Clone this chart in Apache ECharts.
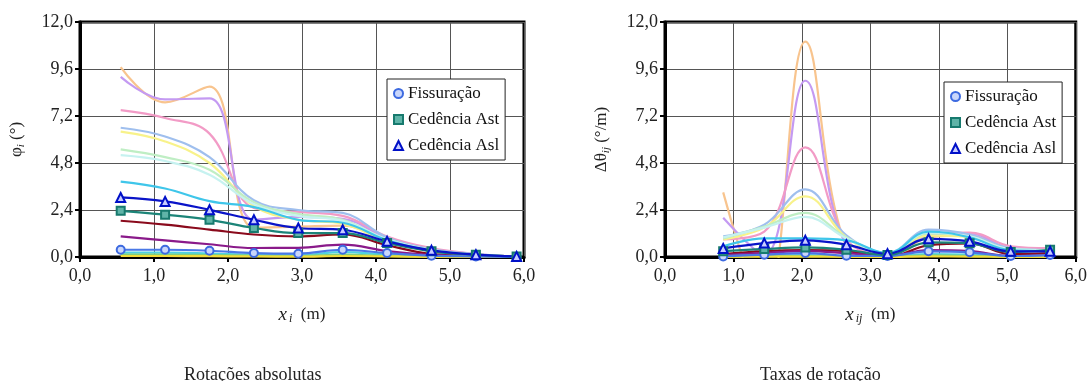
<!DOCTYPE html>
<html>
<head>
<meta charset="utf-8">
<script src="https://cdn.jsdelivr.net/npm/echarts@6/dist/echarts.min.js"></script>
<style>
  html, body { margin: 0; padding: 0; background: #fff; }
  #main { width: 1090px; height: 381px; }
</style>
</head>
<body>
<div id="main"></div>
<script>
// x positions (m)
const xAbs = [0.55, 1.15, 1.75, 2.35, 2.95, 3.55, 4.15, 4.75, 5.35, 5.9];
const xRate = [0.85, 1.45, 2.05, 2.65, 3.25, 3.85, 4.45, 5.05, 5.625];

// rotações absolutas (graus)
const absTan = [9.7, 7.9, 8.7, 1.5, 1.55, 1.6, 0.85, 0.3, 0.12, 0.02];
const absLavender = [9.2, 8.05, 8.1, 1.9, 2.05, 1.95, 0.95, 0.4, 0.15, 0.02];
const absPink = [7.5, 7.1, 6.3, 2.5, 2.3, 2.1, 1.05, 0.45, 0.15, 0.02];
const absLightBlue = [6.6, 6.15, 5.1, 2.9, 2.4, 2.25, 1.0, 0.4, 0.15, 0.02];
const absYellow = [6.4, 5.9, 4.8, 2.6, 1.9, 1.7, 0.8, 0.3, 0.12, 0.02];
const absLightGreen = [5.5, 5.1, 4.45, 2.8, 2.2, 1.9, 0.9, 0.35, 0.12, 0.02];
const absLightCyan = [5.2, 4.9, 4.2, 2.7, 2.1, 1.85, 0.9, 0.35, 0.12, 0.02];
const absCyan = [3.85, 3.5, 2.85, 2.55, 1.9, 1.75, 0.85, 0.3, 0.1, 0.02];
const absDarkRed = [1.85, 1.65, 1.4, 1.15, 1.05, 1.15, 0.6, 0.15, 0.05, 0.01];
const absPurple = [1.05, 0.85, 0.65, 0.46, 0.47, 0.63, 0.3, 0.1, 0.04, 0.01];
const absLowCyan = [0.22, 0.22, 0.18, 0.12, 0.1, 0.25, 0.12, 0.04, 0.02, 0];
const absLowGreen = [0.12, 0.12, 0.1, 0.07, 0.05, 0.12, 0.06, 0.02, 0.01, 0];
const absLowYellow = [0.05, 0.05, 0.04, 0.03, 0.02, 0.05, 0.03, 0.01, 0, 0];
const absFiss = [0.37, 0.37, 0.32, 0.2, 0.17, 0.37, 0.2, 0.07, 0.03, 0.0];
const absAst = [2.36, 2.16, 1.9, 1.48, 1.22, 1.22, 0.71, 0.29, 0.12, 0.02];
const absAsl = [3.04, 2.84, 2.41, 1.9, 1.48, 1.39, 0.8, 0.34, 0.12, 0.03];

// taxas de rotação (graus/m)
const rateTan = [3.3, -2.5, 11.0, 0.5, -0.2, 1.0, 1.1, 0.4, 0.35];
const rateLavender = [2.0, 0.1, 9.0, 0.6, 0.0, 1.1, 1.2, 0.45, 0.4];
const ratePink = [0.9, 1.3, 5.6, 0.9, 0.1, 1.2, 1.25, 0.55, 0.45];
const rateLightBlue = [1.05, 1.65, 3.45, 1.1, 0.2, 1.4, 1.15, 0.45, 0.35];
const rateYellow = [0.9, 1.5, 3.1, 1.0, 0.15, 1.1, 1.0, 0.35, 0.3];
const rateLightGreen = [0.95, 1.55, 2.25, 1.0, 0.2, 1.2, 1.05, 0.4, 0.35];
const rateLightCyan = [1.0, 1.5, 2.05, 0.95, 0.2, 1.25, 1.05, 0.4, 0.35];
const rateCyan = [0.55, 0.95, 0.95, 0.85, 0.2, 1.3, 1.0, 0.35, 0.3];
const rateDarkRed = [0.15, 0.3, 0.35, 0.3, 0.0, 0.6, 0.7, 0.15, 0.2];
const ratePurple = [0.1, 0.2, 0.3, 0.2, 0.05, 0.35, 0.3, 0.05, 0.1];
const rateLowCyan = [0.05, 0.08, 0.1, 0.05, 0.02, 0.15, 0.12, 0.03, 0.05];
const rateLowGreen = [0.02, 0.04, 0.05, 0.03, 0.01, 0.08, 0.06, 0.02, 0.03];
const rateLowYellow = [0.01, 0.02, 0.02, 0.01, 0, 0.03, 0.02, 0.01, 0.01];
const rateFiss = [0.03, 0.12, 0.2, 0.07, 0.05, 0.29, 0.24, 0.05, 0.1];
const rateAst = [0.3, 0.41, 0.49, 0.37, 0.1, 0.75, 0.7, 0.25, 0.37];
const rateAsl = [0.44, 0.71, 0.85, 0.63, 0.17, 0.93, 0.8, 0.29, 0.29];

const serif = '"Liberation Serif", "DejaVu Serif", serif';
const fmt = v => v.toFixed(1).replace('.', ',');

// plain load-step curves: [colour, left data, right data]
const steps = [
  ['#f8c48e', absTan, rateTan],
  ['#c49af2', absLavender, rateLavender],
  ['#f29bc6', absPink, ratePink],
  ['#9fbfee', absLightBlue, rateLightBlue],
  ['#f8f28a', absYellow, rateYellow],
  ['#bfeec4', absLightGreen, rateLightGreen],
  ['#c6f2f0', absLightCyan, rateLightCyan],
  ['#3fc6ea', absCyan, rateCyan],
  ['#8a0a1c', absDarkRed, rateDarkRed],
  ['#8a1a8a', absPurple, ratePurple],
  ['#4fd2e2', absLowCyan, rateLowCyan],
  ['#7fd07f', absLowGreen, rateLowGreen],
  ['#f2dc3a', absLowYellow, rateLowYellow]
];

const marked = [
  { name: 'Fissuração', symbol: 'circle', size: 8, line: '#4a78e6', fill: '#c9d6fb', border: '#3d6ae0', left: absFiss, right: rateFiss },
  { name: 'Cedência Ast', symbol: 'rect', size: 8, line: '#1c8478', fill: '#5fb4a8', border: '#177a6e', left: absAst, right: rateAst },
  { name: 'Cedência Asl', symbol: 'triangle', size: 9, line: '#0a14c8', fill: '#c8ccff', border: '#0010c8', left: absAsl, right: rateAsl }
];

const pairs = (xs, ys) => xs.map((x, i) => [x, ys[i]]);

const series = [];
[[0, xAbs, 1], [1, xRate, 2]].forEach(([g, xs, k]) => {
  steps.forEach((s, i) => {
    series.push({
      name: 'passo' + i, type: 'line', xAxisIndex: g, yAxisIndex: g,
      data: pairs(xs, s[k]), smooth: 0.4, showSymbol: false, silent: true,
      lineStyle: { color: s[0], width: 2.2 }, z: 2
    });
  });
  marked.forEach(m => {
    series.push({
      name: m.name, type: 'line', xAxisIndex: g, yAxisIndex: g,
      data: pairs(xs, g === 0 ? m.left : m.right), smooth: 0.4,
      symbol: m.symbol, symbolSize: m.size,
      lineStyle: { color: m.line, width: 2.2 },
      itemStyle: { color: m.fill, borderColor: m.border, borderWidth: 2 },
      z: 5
    });
  });
});

function xAxis(gi, nameStr) {
  return {
    type: 'value', gridIndex: gi, min: 0, max: 6, interval: 1,
    axisLine: { show: true, lineStyle: { color: '#000', width: 3 } },
    axisTick: { show: true, length: 5, lineStyle: { color: '#000', width: 2 } },
    axisLabel: { formatter: fmt, fontFamily: serif, fontSize: 18, color: '#222', margin: 10 },
    splitLine: { show: true, lineStyle: { color: '#555', width: 1 } },
    name: nameStr, nameLocation: 'middle', nameGap: 47,
    nameTextStyle: {
      fontFamily: serif, fontSize: 17, color: '#222',
      rich: {
        x: { fontFamily: serif, fontSize: 19, fontStyle: 'italic', color: '#222' },
        s: { fontFamily: serif, fontSize: 12, fontStyle: 'italic', color: '#222', padding: [9, 0, 0, 2] },
        n: { fontFamily: serif, fontSize: 17, color: '#222' }
      }
    }
  };
}

function yAxis(gi, nameStr) {
  return {
    type: 'value', gridIndex: gi, min: 0, max: 12, interval: 2.4,
    axisLine: { show: true, lineStyle: { color: '#000', width: 3 } },
    axisTick: { show: true, length: 5, lineStyle: { color: '#000', width: 2 } },
    axisLabel: { formatter: fmt, fontFamily: serif, fontSize: 18, color: '#222', margin: 7 },
    splitLine: { show: true, lineStyle: { color: '#555', width: 1 } },
    name: nameStr, nameLocation: 'middle', nameRotate: 90, nameGap: 53,
    nameTextStyle: {
      fontFamily: serif, fontSize: 17, color: '#222',
      rich: {
        n: { fontFamily: serif, fontSize: 17, color: '#222' },
        s: { fontFamily: serif, fontSize: 11, fontStyle: 'italic', color: '#222', padding: [9, 0, 0, 0] }
      }
    }
  };
}

function legend(left, top) {
  return {
    left: left, top: top, orient: 'vertical',
    backgroundColor: '#fff', borderColor: '#222', borderWidth: 1,
    padding: [6, 6, 6, 6], itemGap: 9, itemWidth: 9, itemHeight: 9,
    textStyle: { fontFamily: serif, fontSize: 17, color: '#111' },
    data: marked.map(m => ({
      name: m.name, icon: m.symbol,
      itemStyle: { color: m.fill, borderColor: m.border, borderWidth: 2 }
    }))
  };
}

const chart = echarts.init(document.getElementById('main'), null, { renderer: 'canvas' });
chart.setOption({
  backgroundColor: '#fff',
  animation: false,
  title: [
    { text: 'Rotações absolutas', left: 179, top: 361, textStyle: { fontFamily: serif, fontSize: 18, fontWeight: 'normal', color: '#222' } },
    { text: 'Taxas de rotação', left: 755, top: 361, textStyle: { fontFamily: serif, fontSize: 18, fontWeight: 'normal', color: '#222' } }
  ],
  legend: [legend(387, 79), legend(944, 82)],
  grid: [
    { left: 80, right: 566, top: 22, bottom: 124, show: true, borderColor: '#000', borderWidth: 3 },
    { left: 665, right: 13, top: 22, bottom: 124, show: true, borderColor: '#000', borderWidth: 3 }
  ],
  xAxis: [
    xAxis(0, '{x|x}{s|i}{n|  (m)}'),
    xAxis(1, '{x|x}{s|ij}{n|  (m)}')
  ],
  yAxis: [
    yAxis(0, '{n|φ}{s|i}{n| (°)}'),
    yAxis(1, '{n|Δθ}{s|ij}{n| (°/m)}')
  ],
  series: series
});
</script>
</body>
</html>
